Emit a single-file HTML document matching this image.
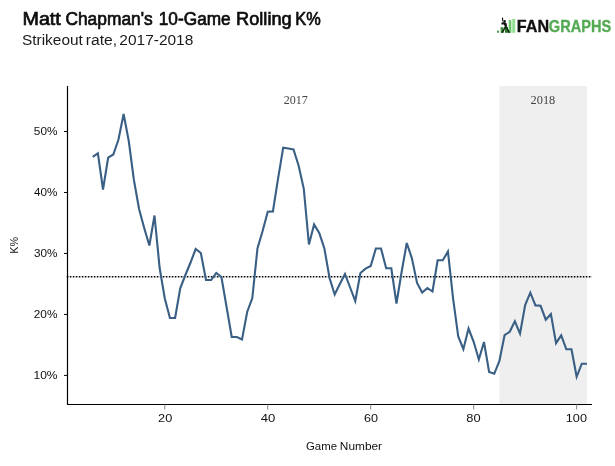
<!DOCTYPE html>
<html><head><meta charset="utf-8">
<style>
html,body{margin:0;padding:0;background:#fff;}
body{width:615px;height:466px;overflow:hidden;}
svg{display:block;}
</style></head><body>
<svg width="615" height="466" viewBox="0 0 615 466">
<rect x="0" y="0" width="615" height="466" fill="#fff"/>
<g>
<rect x="497" y="30.6" width="2" height="2.1" fill="#4a9a4a"/>
<rect x="500.6" y="27.2" width="2.8" height="5.6" fill="#3f8f3f"/>
<rect x="505" y="27" width="3" height="5.8" fill="#2f7a2f"/>
<rect x="508.7" y="20.1" width="2.7" height="12.7" fill="#6cc86c"/>
<rect x="512.2" y="18.9" width="3.0" height="13.9" fill="#93df93"/>
<line x1="502.5" y1="17.6" x2="502.7" y2="21.3" stroke="#111" stroke-width="1.1"/>
<circle cx="504.6" cy="21.4" r="1.3" fill="#111"/>
<path d="M501.4 22.6 L504.2 22.2 L506.6 23.2 L507 26.6 L505.2 26.8 L503.8 24.6 L501.6 24.4 Z" fill="#111"/>
<path d="M502.2 32.8 L505.8 26 L509.4 32.8" stroke="#0f2a0f" stroke-width="1.6" fill="none" stroke-linejoin="round"/>
</g>
<rect x="499.4" y="86" width="87.6" height="318" fill="#efefef"/>
<line x1="66.8" y1="276.8" x2="592" y2="276.8" stroke="#000" stroke-width="1.6" stroke-dasharray="1.6 1.4"/>
<polyline points="92.73,156.80 97.88,153.30 103.02,189.50 108.17,157.70 113.32,154.50 118.47,139.50 123.62,114.00 128.76,141.00 133.91,180.00 139.06,209.00 144.21,228.00 149.36,245.50 154.50,215.50 159.65,268.00 164.80,298.50 169.95,318.00 175.10,318.00 180.24,288.30 185.39,275.00 190.54,262.50 195.69,249.00 200.84,253.00 205.98,280.00 211.13,280.00 216.28,273.00 221.43,277.00 226.58,307.00 231.72,337.00 236.87,337.00 242.02,339.50 247.17,312.00 252.32,298.00 257.46,248.50 262.61,231.00 267.76,211.80 272.91,211.40 278.06,178.60 283.20,147.70 288.35,148.50 293.50,149.50 298.65,165.70 303.80,188.80 308.94,244.50 314.09,224.50 319.24,233.00 324.39,248.50 329.54,278.00 334.68,294.50 339.83,284.00 344.98,274.00 350.13,287.50 355.28,301.00 360.42,273.00 365.57,268.60 370.72,266.00 375.87,248.50 381.02,248.50 386.16,268.30 391.31,268.30 396.46,303.50 401.61,272.00 406.76,243.00 411.90,258.30 417.05,283.00 422.20,292.50 427.35,288.00 432.50,291.50 437.64,260.30 442.79,260.30 447.94,251.50 453.09,298.60 458.24,336.50 463.38,349.20 468.53,328.50 473.68,341.80 478.83,359.50 483.98,342.00 489.12,372.00 494.27,373.80 499.42,361.00 504.57,335.20 509.72,331.80 514.86,321.30 520.01,333.60 525.16,305.00 530.31,292.70 535.46,305.40 540.60,305.80 545.75,319.70 550.90,314.00 556.05,343.20 561.20,335.40 566.34,349.30 571.49,349.30 576.64,376.80 581.79,363.70 586.94,363.70" fill="none" stroke="#3a5f85" stroke-width="2.1" stroke-linejoin="miter" stroke-miterlimit="4"/>
<line x1="67.5" y1="86" x2="67.5" y2="404.5" stroke="#000" stroke-width="1.2"/>
<line x1="67" y1="404.5" x2="592" y2="404.5" stroke="#000" stroke-width="1.2"/>
<line x1="64" y1="375.40" x2="67.5" y2="375.40" stroke="#000" stroke-width="1"/>
<line x1="64" y1="314.43" x2="67.5" y2="314.43" stroke="#000" stroke-width="1"/>
<line x1="64" y1="253.46" x2="67.5" y2="253.46" stroke="#000" stroke-width="1"/>
<line x1="64" y1="192.49" x2="67.5" y2="192.49" stroke="#000" stroke-width="1"/>
<line x1="64" y1="131.52" x2="67.5" y2="131.52" stroke="#000" stroke-width="1"/>
<line x1="164.80" y1="404.5" x2="164.80" y2="409.5" stroke="#888" stroke-width="1"/>
<line x1="267.76" y1="404.5" x2="267.76" y2="409.5" stroke="#888" stroke-width="1"/>
<line x1="370.72" y1="404.5" x2="370.72" y2="409.5" stroke="#888" stroke-width="1"/>
<line x1="473.68" y1="404.5" x2="473.68" y2="409.5" stroke="#888" stroke-width="1"/>
<line x1="576.64" y1="404.5" x2="576.64" y2="409.5" stroke="#888" stroke-width="1"/>

<g style="filter:saturate(1.0001)">
<text stroke="#0d0d0d" stroke-width="0.7" x="22.47" y="25.40" style="font-family:'Liberation Sans';font-size:18.7px;font-weight:normal" fill="#0d0d0d" textLength="38.36" lengthAdjust="spacingAndGlyphs">Matt</text>
<text stroke="#0d0d0d" stroke-width="0.7" x="65.41" y="25.40" style="font-family:'Liberation Sans';font-size:18.7px;font-weight:normal" fill="#0d0d0d" textLength="87.29" lengthAdjust="spacingAndGlyphs">Chapman&#39;s</text>
<text stroke="#0d0d0d" stroke-width="0.7" x="158.76" y="25.40" style="font-family:'Liberation Sans';font-size:18.7px;font-weight:normal" fill="#0d0d0d" textLength="71.98" lengthAdjust="spacingAndGlyphs">10-Game</text>
<text stroke="#0d0d0d" stroke-width="0.7" x="236.09" y="25.40" style="font-family:'Liberation Sans';font-size:18.7px;font-weight:normal" fill="#0d0d0d" textLength="55.59" lengthAdjust="spacingAndGlyphs">Rolling</text>
<text stroke="#0d0d0d" stroke-width="0.7" x="295.34" y="25.40" style="font-family:'Liberation Sans';font-size:18.7px;font-weight:normal" fill="#0d0d0d" textLength="25.42" lengthAdjust="spacingAndGlyphs">K%</text>
<text x="21.97" y="44.60" style="font-family:'Liberation Sans';font-size:14.7px;font-weight:normal" fill="#1a1a1a" textLength="60.85" lengthAdjust="spacingAndGlyphs">Strikeout</text>
<text x="85.73" y="44.60" style="font-family:'Liberation Sans';font-size:14.7px;font-weight:normal" fill="#1a1a1a" textLength="31.37" lengthAdjust="spacingAndGlyphs">rate,</text>
<text x="119.36" y="44.60" style="font-family:'Liberation Sans';font-size:14.7px;font-weight:normal" fill="#1a1a1a" textLength="73.97" lengthAdjust="spacingAndGlyphs">2017-2018</text>
<text stroke="#111" stroke-width="0.35" x="516.80" y="32.00" style="font-family:'Liberation Sans';font-size:16.5px;font-weight:bold" fill="#111" textLength="32.30" lengthAdjust="spacingAndGlyphs">FAN</text>
<text stroke="#55aa55" stroke-width="0.35" x="548.86" y="32.00" style="font-family:'Liberation Sans';font-size:16.5px;font-weight:bold" fill="#55aa55" textLength="62.38" lengthAdjust="spacingAndGlyphs">GRAPHS</text>
<text x="283.78" y="103.70" style="font-family:'Liberation Serif';font-size:11.5px;font-weight:normal" fill="#444" textLength="24.04" lengthAdjust="spacingAndGlyphs">2017</text>
<text x="530.56" y="103.70" style="font-family:'Liberation Serif';font-size:11.5px;font-weight:normal" fill="#444" textLength="24.77" lengthAdjust="spacingAndGlyphs">2018</text>
<text x="306.00" y="450.00" style="font-family:'Liberation Sans';font-size:11.4px;font-weight:normal" fill="#111" textLength="31.04" lengthAdjust="spacingAndGlyphs">Game</text>
<text x="339.86" y="450.00" style="font-family:'Liberation Sans';font-size:11.4px;font-weight:normal" fill="#111" textLength="42.19" lengthAdjust="spacingAndGlyphs">Number</text>
<text x="33.45" y="378.80" style="font-family:'Liberation Sans';font-size:11.4px;font-weight:normal" fill="#111" textLength="24.09" lengthAdjust="spacingAndGlyphs">10%</text>
<text x="33.78" y="317.83" style="font-family:'Liberation Sans';font-size:11.4px;font-weight:normal" fill="#111" textLength="23.76" lengthAdjust="spacingAndGlyphs">20%</text>
<text x="33.99" y="256.86" style="font-family:'Liberation Sans';font-size:11.4px;font-weight:normal" fill="#111" textLength="23.54" lengthAdjust="spacingAndGlyphs">30%</text>
<text x="34.09" y="195.89" style="font-family:'Liberation Sans';font-size:11.4px;font-weight:normal" fill="#111" textLength="23.44" lengthAdjust="spacingAndGlyphs">40%</text>
<text x="33.88" y="134.92" style="font-family:'Liberation Sans';font-size:11.4px;font-weight:normal" fill="#111" textLength="23.65" lengthAdjust="spacingAndGlyphs">50%</text>
<text x="158.13" y="421.90" style="font-family:'Liberation Sans';font-size:11.4px;font-weight:normal" fill="#111" textLength="14.09" lengthAdjust="spacingAndGlyphs">20</text>
<text x="260.65" y="421.90" style="font-family:'Liberation Sans';font-size:11.4px;font-weight:normal" fill="#111" textLength="14.58" lengthAdjust="spacingAndGlyphs">40</text>
<text x="364.14" y="421.90" style="font-family:'Liberation Sans';font-size:11.4px;font-weight:normal" fill="#111" textLength="13.98" lengthAdjust="spacingAndGlyphs">60</text>
<text x="466.34" y="421.90" style="font-family:'Liberation Sans';font-size:11.4px;font-weight:normal" fill="#111" textLength="14.29" lengthAdjust="spacingAndGlyphs">80</text>
<text x="565.80" y="421.90" style="font-family:'Liberation Sans';font-size:11.4px;font-weight:normal" fill="#111" textLength="21.17" lengthAdjust="spacingAndGlyphs">100</text>
<text transform="translate(17.8,253.75) rotate(-90)" x="0" y="0" font-family="Liberation Sans" font-size="11.4" fill="#111" textLength="16.77" lengthAdjust="spacingAndGlyphs">K%</text>
</g>
</svg>
</body></html>
